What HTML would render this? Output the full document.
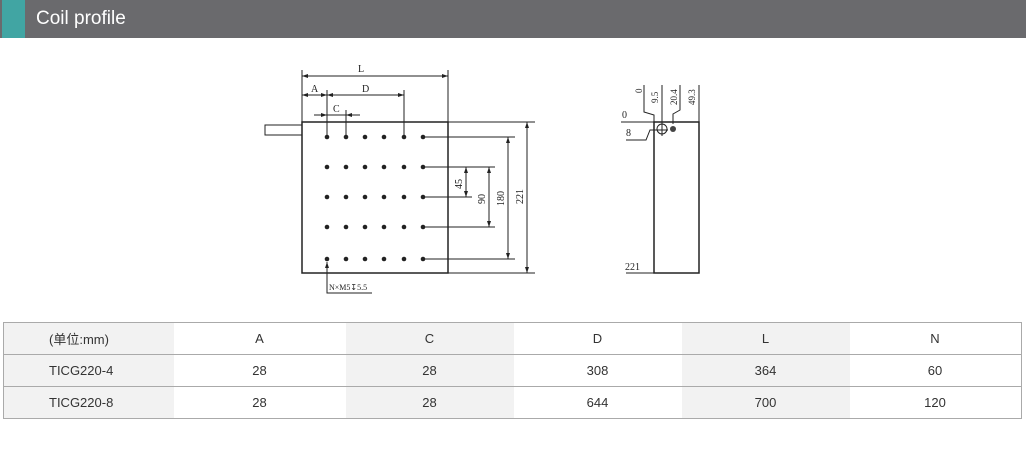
<!DOCTYPE html>
<html><head><meta charset="utf-8"><style>
body{margin:0;width:1026px;height:456px;background:#fff;overflow:hidden;position:relative;font-family:"Liberation Sans","Noto Sans CJK SC",sans-serif}
.hdr{position:absolute;left:0;top:0;width:1026px;height:38px;background:#6a6a6d}
.teal{position:absolute;left:2px;top:0;width:23px;height:38px;background:#41a5a3}
.ttl{position:absolute;left:36px;top:8px;color:#fff;font-size:19px}
table{position:absolute;left:3px;top:322px;border-collapse:collapse;font-size:13px;color:#333}
td{height:31px;border-top:1px solid #aaa;border-bottom:1px solid #aaa;text-align:center;padding:0}
td.g{background:#f2f2f2}
tr td:first-child{border-left:1px solid #aaa;text-align:left;padding-left:45px;box-sizing:border-box}
tr td:last-child{border-right:1px solid #aaa}
</style></head><body>
<div class="hdr"></div><div class="teal"></div><div class="ttl">Coil profile</div>
<svg width="1026" height="320" style="position:absolute;left:0;top:0" font-family="Liberation Serif,serif" font-size="10" fill="#222">
<defs><g id="r"><circle cx="327" r="2.3"/><circle cx="346" r="2.3"/><circle cx="365" r="2.3"/><circle cx="384" r="2.3"/><circle cx="404" r="2.3"/><circle cx="423" r="2.3"/></g></defs>
<g stroke="#222" stroke-width="1" fill="none">
<rect x="302" y="122" width="146" height="151" stroke-width="1.5"/>
<rect x="265" y="125" width="37" height="10"/>
<line x1="302" y1="70" x2="302" y2="122"/><line x1="448" y1="70" x2="448" y2="122"/>
<line x1="302" y1="76" x2="448" y2="76"/>
<line x1="302" y1="95" x2="404" y2="95"/>
<line x1="327" y1="90" x2="327" y2="137"/><line x1="404" y1="90" x2="404" y2="137"/>
<line x1="314" y1="115" x2="360" y2="115"/><line x1="346" y1="110" x2="346" y2="137"/>
<line x1="423" y1="137" x2="515" y2="137"/><line x1="423" y1="167" x2="495" y2="167"/>
<line x1="423" y1="197" x2="472" y2="197"/><line x1="423" y1="227" x2="495" y2="227"/>
<line x1="423" y1="259" x2="515" y2="259"/>
<line x1="448" y1="122" x2="535" y2="122"/><line x1="448" y1="273" x2="535" y2="273"/>
<line x1="466" y1="167" x2="466" y2="197"/><line x1="489" y1="167" x2="489" y2="227"/>
<line x1="508" y1="137" x2="508" y2="259"/><line x1="527" y1="122" x2="527" y2="273"/>
<polyline points="327,262 327,293 372,293"/>
<rect x="654" y="122" width="45" height="151" stroke-width="1.5"/>
<line x1="621" y1="122" x2="699" y2="122"/>
<polyline points="644,85 644,112 654,115 654,122"/>
<line x1="662" y1="85" x2="662" y2="136"/>
<polyline points="680,85 680,110 673,114 673,124"/>
<line x1="699" y1="85" x2="699" y2="122"/>
<polyline points="626,140 646,140 650,130 668,130"/>
<line x1="626" y1="273" x2="654" y2="273"/>
<circle cx="662" cy="129" r="5"/>
</g>
<circle cx="673" cy="129" r="3" fill="#444"/>
<g fill="#222">
<use href="#r" y="137"/><use href="#r" y="167"/><use href="#r" y="197"/><use href="#r" y="227"/><use href="#r" y="259"/>
<path d="M302,76l6,-2v4zM448,76l-6,-2v4zM302,95l6,-2v4zM327,95l-6,-2v4zM327,95l6,-2v4zM404,95l-6,-2v4zM327,115l-6,-2v4zM346,115l6,-2v4zM466,167l-2,6h4zM466,197l-2,-6h4zM489,167l-2,6h4zM489,227l-2,-6h4zM508,137l-2,6h4zM508,259l-2,-6h4zM527,122l-2,6h4zM527,273l-2,-6h4zM327,262l-2,6h4z"/>
</g>
<text x="358" y="72">L</text><text x="311" y="92">A</text><text x="362" y="92">D</text><text x="333" y="112">C</text>
<text x="329" y="290" font-size="8">N×M5↧5.5</text>
<text transform="translate(462,189) rotate(-90)">45</text>
<text transform="translate(485,204) rotate(-90)">90</text>
<text transform="translate(504,206) rotate(-90)">180</text>
<text transform="translate(523,204) rotate(-90)">221</text>
<text x="622" y="118">0</text><text x="626" y="136">8</text><text x="625" y="270">221</text>
<text transform="translate(642,93) rotate(-90)" font-size="9">0</text>
<text transform="translate(658,103) rotate(-90)" font-size="9">9.5</text>
<text transform="translate(677,105) rotate(-90)" font-size="9">20.4</text>
<text transform="translate(695,105) rotate(-90)" font-size="9">49.3</text>
</svg>
<table>
<tr><td class="g" style="width:170px">(单位:mm)</td><td style="width:172px">A</td><td class="g" style="width:168px">C</td><td style="width:168px">D</td><td class="g" style="width:168px">L</td><td style="width:171px">N</td></tr>
<tr><td class="g">TICG220-4</td><td>28</td><td class="g">28</td><td>308</td><td class="g">364</td><td>60</td></tr>
<tr><td class="g">TICG220-8</td><td>28</td><td class="g">28</td><td>644</td><td class="g">700</td><td>120</td></tr>
</table>
</body></html>
